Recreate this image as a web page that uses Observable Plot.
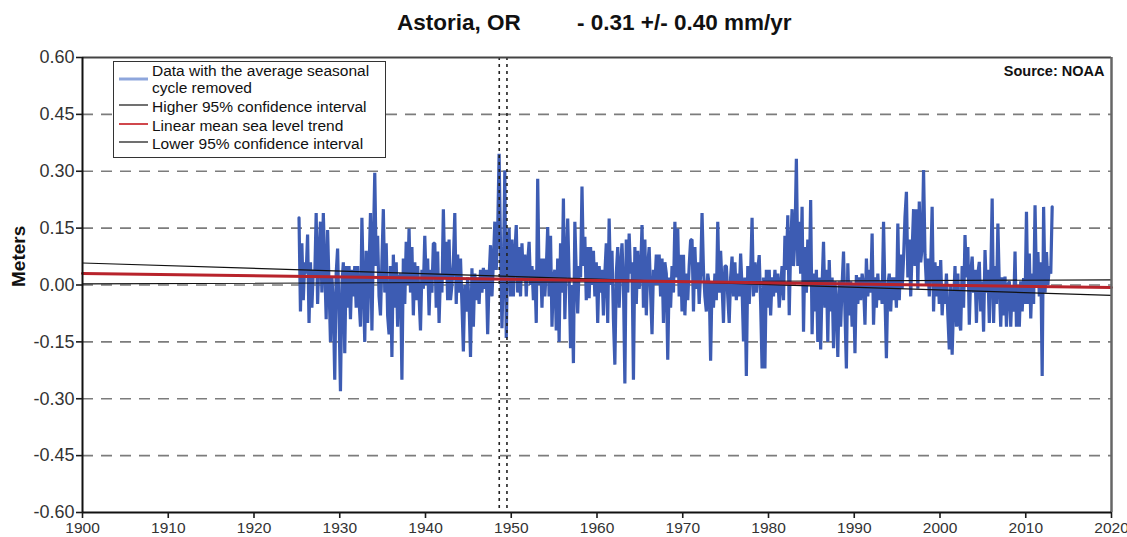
<!DOCTYPE html>
<html>
<head>
<meta charset="utf-8">
<script src="https://cdn.jsdelivr.net/npm/d3@7"></script>
<script src="https://cdn.jsdelivr.net/npm/@observablehq/plot@0.6"></script>
<style>
  body { margin: 0; background: #fff; }
  #chart { position: relative; width: 1127px; height: 537px; font-family: "Liberation Sans", Arial, sans-serif; }
  #title { position: absolute; top: 10px; left: 0; width: 1127px; height: 28px; font-weight: bold; font-size: 22.5px; color: #111; }
  #title span { position: absolute; white-space: pre; }
  #legend { position: absolute; left: 0; top: 0; pointer-events: none; }
</style>
</head>
<body>
<div id="chart">
  <div id="title"></div>
</div>
<script>
// Station and trend (mm/yr) as published
const station = "Astoria, OR";
const trendRate = -0.31;
const ciRate = 0.40;
const pivotYear = 1969;      // year where the three trend lines cross
const pivotLevel = 0.009;    // meters at the pivot year
const source = "Source: NOAA";

// Monthly mean sea level, seasonal cycle removed (meters), sampled every 2 months from 1925.25
const startYear = 1925.25;
const stepsPerYear = 6;
const seaLevel = [
  0.177, -0.07, 0.11, -0.04, 0.06,                 // 1925
  0.03, 0.133, -0.10, 0.06, -0.06, 0.04,           // 1926
  0.02, 0.19, -0.05, 0.08, 0.167, -0.02,
  0.19, 0.05, -0.09, 0.145, 0.0, -0.15,
  0.02, -0.05, -0.25, 0.03, 0.096, -0.08,
  -0.28, 0.0, 0.06, -0.18, 0.05, -0.06,            // 1930
  0.05, -0.09, 0.04, -0.03, 0.05, -0.06,
  0.05, -0.04, -0.11, 0.177, 0.0, -0.15,
  0.09, -0.10, 0.04, 0.19, -0.12, 0.10,
  0.296, 0.05, 0.13, -0.03, -0.08, 0.06,
  0.20, -0.02, 0.11, -0.08, -0.13, 0.05,
  -0.19, 0.08, -0.06, 0.06, -0.11, 0.02,
  0.03, -0.25, 0.07, -0.05, 0.114, 0.0,
  0.149, -0.02, 0.10, -0.08, 0.06, -0.04,
  0.05, -0.03, -0.12, 0.04, -0.01, 0.13,
  0.0, 0.07, -0.08, 0.04, -0.02, 0.11,             // 1940
  0.11, -0.06, 0.088, -0.10, 0.03, -0.02,
  0.20, 0.02, 0.114, -0.04, 0.12, -0.04,
  0.0, 0.06, 0.19, -0.05, 0.08, -0.02,
  0.07, -0.05, -0.175, 0.0, -0.07, 0.02,
  -0.05, -0.19, 0.044, -0.11, 0.03, -0.04,
  0.02, -0.05, 0.04, -0.02, 0.045, -0.01,
  0.04, -0.13, 0.02, 0.105, -0.03, 0.06,
  0.167, 0.04, 0.14, 0.346, 0.10, -0.114,
  0.04, 0.302, -0.14, 0.10, 0.15, -0.03,
  0.12, -0.03, 0.08, 0.158, -0.02, 0.10,           // 1950
  -0.03, 0.11, 0.01, 0.08, -0.03, 0.06,
  0.114, 0.0, 0.05, -0.04, 0.04, -0.10,
  0.28, 0.0, 0.07, -0.06, 0.07, -0.03,
  0.04, 0.153, -0.03, 0.13, -0.11, 0.02,
  0.04, -0.12, 0.07, -0.15, 0.11, -0.02,
  0.228, -0.09, 0.06, 0.175, 0.02, -0.167,
  0.0, -0.206, 0.167, 0.03, -0.075, 0.05,
  0.02, 0.26, 0.05, 0.127, -0.04, 0.10,
  -0.035, 0.10, 0.0, 0.09, -0.03, 0.06,
  -0.10, 0.05, -0.02, 0.04, -0.08, 0.03,           // 1960
  0.11, -0.10, 0.175, 0.0, 0.09, -0.09,
  -0.21, 0.03, 0.10, -0.06, 0.05, 0.11,
  0.0, -0.26, 0.12, -0.02, 0.136, 0.03,
  0.06, -0.25, 0.10, -0.05, 0.09, -0.01,
  0.03, 0.158, -0.06, 0.12, -0.08, 0.05,
  0.10, -0.02, -0.13, 0.04, 0.0, 0.08,
  0.0, 0.08, -0.03, 0.07, -0.10, 0.06,
  0.03, -0.197, 0.02, -0.06, 0.05, -0.02,
  0.167, 0.02, 0.149, -0.03, 0.08, -0.07,
  0.08, -0.08, 0.03, -0.04, 0.05, 0.118,           // 1970
  0.12, -0.07, 0.10, -0.01, 0.06, -0.05,
  0.03, 0.19, 0.04, -0.03, -0.07, 0.03,
  0.0, -0.20, 0.01, -0.06, 0.03, -0.04,
  0.167, -0.02, 0.09, 0.0, -0.10, 0.05,
  0.05, -0.03, -0.10, 0.02, 0.075, -0.03,
  0.06, -0.04, 0.03, -0.03, 0.083, -0.01,
  -0.149, 0.02, -0.24, 0.05, -0.05, 0.03,
  0.177, -0.03, 0.06, -0.02, 0.04, 0.079,
  -0.05, -0.22, 0.02, -0.22, 0.04, -0.06,
  0.04, -0.08, 0.02, -0.03, 0.04, -0.02,           // 1980
  0.03, -0.06, 0.0, 0.05, -0.04, 0.13,
  0.04, 0.184, -0.08, 0.10, 0.20, 0.05,
  0.12, 0.333, 0.05, 0.167, 0.03, 0.206,
  -0.123, 0.10, -0.02, 0.12, 0.0, 0.224,
  -0.13, 0.03, -0.07, 0.04, -0.15, 0.02,
  -0.17, 0.0, 0.114, -0.06, 0.04, -0.15,
  0.066, -0.07, 0.02, -0.167, 0.01, -0.05,
  -0.19, 0.01, -0.11, 0.0, 0.088, -0.07,
  -0.22, 0.057, -0.08, 0.01, -0.11, 0.0,
  -0.18, 0.026, -0.05, 0.02, -0.04, 0.03,          // 1990
  0.0, -0.105, 0.07, -0.03, 0.04, -0.02,
  0.136, -0.105, 0.02, -0.06, 0.03, -0.04,
  0.01, -0.05, 0.167, -0.03, -0.193, 0.0,
  0.03, -0.07, 0.02, -0.04, 0.02, -0.06,
  0.162, -0.04, 0.08, -0.01, 0.07, 0.18,
  0.246, 0.02, 0.12, -0.03, 0.09, 0.20,
  0.05, 0.20, -0.01, 0.22, 0.06, 0.10,
  0.303, 0.08, 0.0, 0.07, -0.03, 0.05,
  0.206, -0.07, 0.06, -0.03, 0.05, -0.05,
  0.066, -0.08, 0.0, -0.05, 0.03, -0.08,           // 2000
  -0.17, 0.0, -0.184, -0.05, 0.05, -0.11,
  0.03, -0.10, -0.12, 0.05, -0.06, 0.132,
  0.02, 0.10, -0.105, 0.03, 0.075, -0.02,
  0.04, -0.10, 0.03, 0.061, -0.07, 0.01,
  -0.123, 0.092, -0.02, 0.04, -0.10, 0.02,
  0.228, -0.10, 0.05, -0.05, 0.162, 0.0,
  -0.11, 0.02, -0.08, 0.022, -0.11, 0.0,
  0.01, -0.11, 0.0, -0.07, 0.088, -0.11,
  0.0, -0.11, 0.01, -0.07, 0.018, -0.05,
  0.193, -0.05, 0.083, -0.088, 0.03, -0.05,        // 2010
  0.21, 0.0, 0.087, -0.03, 0.06, -0.24,
  0.206, -0.02, 0.087, 0.0, 0.05, 0.03,
  0.206                                            // 2013
];

// Axes, grid and reference lines
const xTicks = [1900, 1910, 1920, 1930, 1940, 1950, 1960, 1970, 1980, 1990, 2000, 2010, 2020];
const yTicks = [-0.60, -0.45, -0.30, -0.15, 0.00, 0.15, 0.30, 0.45, 0.60];
const gridLevels = [-0.45, -0.30, -0.15, 0.00, 0.15, 0.30, 0.45];
const markerYears = [1948.6, 1949.5];
const trendYears = [1900, 2020];

const legendItems = [
  {label: ["Data with the average seasonal", "cycle removed"], color: "#8ea6dc", width: 3},
  {label: ["Higher 95% confidence interval"], color: "#111", width: 1.2},
  {label: ["Linear mean sea level trend"], color: "#d0474c", width: 2},
  {label: ["Lower 95% confidence interval"], color: "#111", width: 1.2}
];

const series = seaLevel.map((v, i) => ({year: startYear + i / stepsPerYear, value: v}));
const trendLine = rate => trendYears.map(y => ({year: y, value: pivotLevel + rate / 1000 * (y - pivotYear)}));

const chart = Plot.plot({
  width: 1127,
  height: 537,
  marginLeft: 82,
  marginRight: 16,
  marginTop: 57,
  marginBottom: 25,
  style: {fontFamily: '"Liberation Sans", Arial, sans-serif', fontSize: "15px", color: "#1a1a1a", background: "#fff", overflow: "visible"},
  x: {domain: [1900, 2020]},
  y: {domain: [-0.6, 0.6]},
  marks: [
    Plot.ruleY(gridLevels, {stroke: "#7c7c7c", strokeWidth: 1.6, strokeDasharray: "11,8"}),
    Plot.line(series, {x: "year", y: "value", stroke: "#3d5cb3", strokeWidth: 3.2, strokeLinejoin: "miter"}),
    Plot.line(trendLine(trendRate + ciRate), {x: "year", y: "value", stroke: "#111", strokeWidth: 1.2}),
    Plot.line(trendLine(trendRate - ciRate), {x: "year", y: "value", stroke: "#111", strokeWidth: 1.2}),
    Plot.line(trendLine(trendRate), {x: "year", y: "value", stroke: "#b8232b", strokeWidth: 3}),
    Plot.ruleX(markerYears, {stroke: "#222", strokeWidth: 1.6, strokeDasharray: "3,4"}),
    Plot.ruleY([0.6], {stroke: "#444", strokeWidth: 2}),
    Plot.ruleX([2020], {stroke: "#666", strokeWidth: 2.5}),
    Plot.ruleX([1900], {stroke: "#111", strokeWidth: 2}),
    Plot.ruleY([-0.6], {stroke: "#111", strokeWidth: 2}),
    Plot.axisY({ticks: yTicks, tickFormat: d => d.toFixed(2), tickSize: 6, tickPadding: 2, strokeWidth: 1.6, label: null, fontSize: 18, fill: "#333"}),
    Plot.axisX({ticks: xTicks, tickFormat: d => String(d), tickSize: 6, tickPadding: 3, strokeWidth: 1.6, label: null, fontSize: 15.5, fill: "#333"}),
    Plot.text(["Meters"], {frameAnchor: "left", rotate: -90, dx: -64, dy: 2, fontWeight: "bold", fontSize: 19, fill: "#111"}),
    Plot.text([source], {frameAnchor: "top-right", dx: -7, dy: 8, lineAnchor: "top", textAnchor: "end", fontWeight: "bold", fontSize: 14.5, fill: "#111"})
  ]
});

const root = document.getElementById("chart");
root.appendChild(chart);

// Title: station name and trend statement
const title = d3.select("#title");
title.append("span").style("left", "397px").text(station);
title.append("span").style("left", "577px")
  .text(`${trendRate < 0 ? "-" : ""} ${Math.abs(trendRate).toFixed(2)} +/- ${ciRate.toFixed(2)} mm/yr`);

// Legend box inside the plot area
const lg = d3.select(root).append("svg")
  .attr("id", "legend").attr("width", 1127).attr("height", 537)
  .style("font-family", '"Liberation Sans", Arial, sans-serif').style("font-size", "15.5px");
lg.append("rect").attr("x", 113.5).attr("y", 61.5).attr("width", 272).attr("height", 96)
  .attr("fill", "#fff").attr("stroke", "#333").attr("stroke-width", 1);
const rowY = [79, 105, 124, 142];
const baseY = [[76, 93], [112], [131], [149]];
legendItems.forEach((it, i) => {
  lg.append("line").attr("x1", 119).attr("x2", 148).attr("y1", rowY[i]).attr("y2", rowY[i])
    .attr("stroke", it.color).attr("stroke-width", it.width);
  it.label.forEach((t, j) => {
    lg.append("text").attr("x", 152).attr("y", baseY[i][j]).attr("fill", "#111").text(t);
  });
});
</script>
</body>
</html>
